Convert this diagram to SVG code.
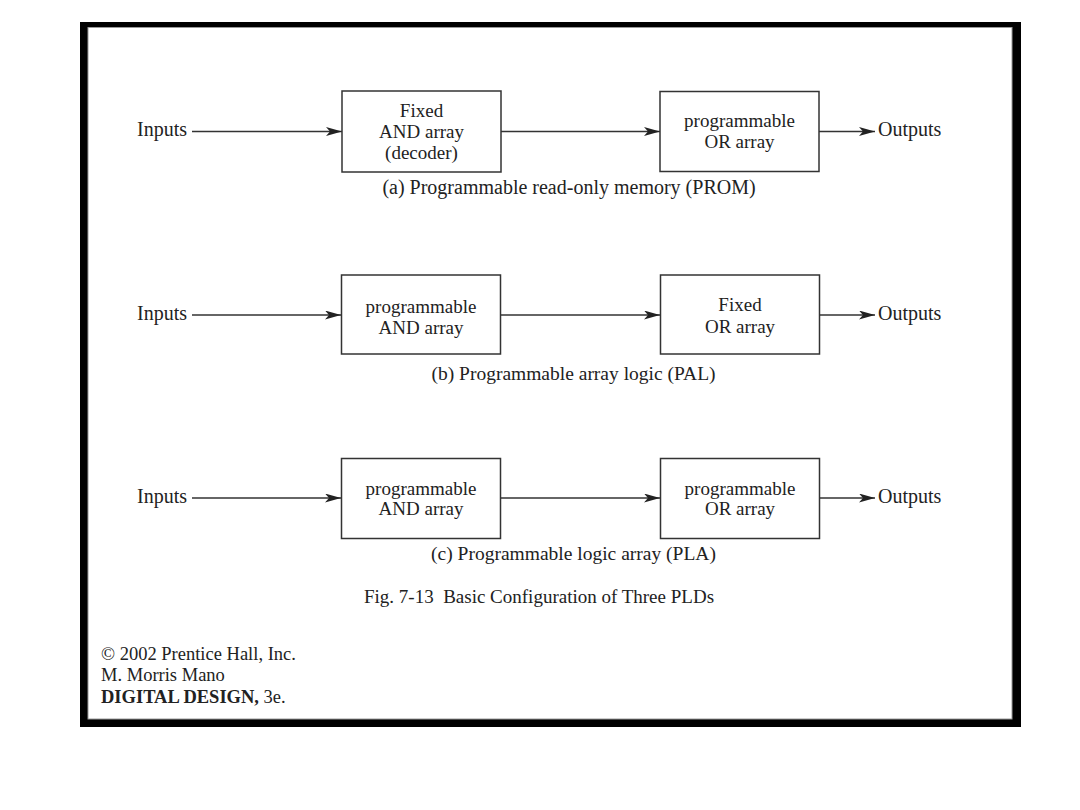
<svg xmlns="http://www.w3.org/2000/svg" width="1080" height="810" viewBox="0 0 1080 810">
<style>
text{font-family:"Liberation Serif","Times New Roman",serif;fill:#222}
.lbl{font-size:20px}
.box{font-size:19px;text-anchor:middle}
.cap{font-size:19.5px;text-anchor:middle}
.capa{font-size:20px;text-anchor:middle}
.fig{font-size:19px;text-anchor:middle}
.foot{font-size:18.5px}
.blk{fill:#fff;stroke:#333;stroke-width:1.5}
.ln{stroke:#333;stroke-width:1.3;fill:none;marker-end:url(#ah)}
</style>
<defs>
<marker id="ah" markerUnits="userSpaceOnUse" markerWidth="17" markerHeight="10" refX="16" refY="4.5" orient="auto">
<path d="M0,0 L16,4.5 L0,9 L4,4.5 Z" fill="#222"/>
</marker>
</defs>
<rect x="0" y="0" width="1080" height="810" fill="#fff"/>
<rect x="80" y="22" width="941" height="705" fill="#000"/>
<rect x="88" y="27.5" width="924" height="691.5" fill="#fff" stroke="#999" stroke-width="1"/>

<g id="connectors">
<line class="ln" x1="192" y1="131.5" x2="342" y2="131.5"/>
<line class="ln" x1="501" y1="131.5" x2="660" y2="131.5"/>
<line class="ln" x1="819" y1="131.5" x2="875" y2="131.5"/>
<line class="ln" x1="192" y1="315" x2="341" y2="315"/>
<line class="ln" x1="501" y1="315" x2="660" y2="315"/>
<line class="ln" x1="819" y1="315" x2="875" y2="315"/>
<line class="ln" x1="192" y1="498" x2="341" y2="498"/>
<line class="ln" x1="501" y1="498" x2="660" y2="498"/>
<line class="ln" x1="819" y1="498" x2="875" y2="498"/>
</g>

<g id="prom-inputs"><text class="lbl" x="137" y="136">Inputs</text></g>
<g id="prom-and"><rect class="blk" x="342" y="91" width="159" height="81"/>
<text class="box" x="421.5" y="117">Fixed</text><text class="box" x="421.5" y="138">AND array</text><text class="box" x="421.5" y="159">(decoder)</text></g>
<g id="prom-or"><rect class="blk" x="660" y="91.5" width="159" height="80"/>
<text class="box" x="739.5" y="127">programmable</text><text class="box" x="739.5" y="148">OR array</text></g>
<g id="prom-outputs"><text class="lbl" x="878" y="136">Outputs</text></g>
<g id="cap-a"><text class="capa" x="569" y="194">(a) Programmable read-only memory (PROM)</text></g>

<g id="pal-inputs"><text class="lbl" x="137" y="319.5">Inputs</text></g>
<g id="pal-and"><rect class="blk" x="341.5" y="275" width="159" height="79"/>
<text class="box" x="421" y="313">programmable</text><text class="box" x="421" y="334">AND array</text></g>
<g id="pal-or"><rect class="blk" x="660.5" y="275" width="159" height="79"/>
<text class="box" x="740" y="311">Fixed</text><text class="box" x="740" y="333">OR array</text></g>
<g id="pal-outputs"><text class="lbl" x="878" y="319.5">Outputs</text></g>
<g id="cap-b"><text class="cap" x="573.5" y="380">(b) Programmable array logic (PAL)</text></g>

<g id="pla-inputs"><text class="lbl" x="137" y="502.5">Inputs</text></g>
<g id="pla-and"><rect class="blk" x="341.5" y="458.5" width="159" height="80"/>
<text class="box" x="421" y="495">programmable</text><text class="box" x="421" y="515">AND array</text></g>
<g id="pla-or"><rect class="blk" x="660.5" y="458.5" width="159" height="80"/>
<text class="box" x="740" y="495">programmable</text><text class="box" x="740" y="515">OR array</text></g>
<g id="pla-outputs"><text class="lbl" x="878" y="502.5">Outputs</text></g>
<g id="cap-c"><text class="cap" x="573.5" y="560">(c) Programmable logic array (PLA)</text></g>

<g id="fig-caption"><text class="fig" x="539" y="603" xml:space="preserve">Fig. 7-13  Basic Configuration of Three PLDs</text></g>

<g id="footer">
<text class="foot" x="101" y="660">© 2002 Prentice Hall, Inc.</text>
<text class="foot" x="101" y="681">M. Morris Mano</text>
<text class="foot" x="101" y="703"><tspan font-weight="bold">DIGITAL DESIGN,</tspan> 3e.</text>
</g>
</svg>
